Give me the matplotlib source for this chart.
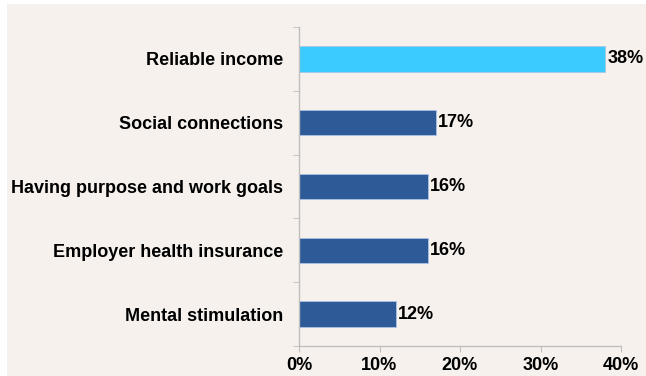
import matplotlib.pyplot as plt
from matplotlib.patches import Rectangle
from matplotlib.ticker import FuncFormatter

plt.rcParams['font.family'] = ['Liberation Sans', 'DejaVu Sans']
plt.rcParams['font.weight'] = 'bold'

categories = ['Reliable income', 'Social connections', 'Having purpose and work goals',
              'Employer health insurance', 'Mental stimulation']
values = [38, 17, 16, 16, 12]
bar_colors = ['#3CCBFF', '#2E5B98', '#2E5B98', '#2E5B98', '#2E5B98']
xticks = [0, 10, 20, 30, 40]

W, H = 646, 376
fig = plt.figure(figsize=(W / 100, H / 100), dpi=100)
fig.patch.set_facecolor('white')
# beige panel behind the chart
fig.patches.append(Rectangle((7 / W, 0), 1 - 7 / W, 1 - 4 / H, transform=fig.transFigure,
                             facecolor='#F6F1ED', edgecolor='none', zorder=-1))

ax = fig.add_axes([299 / W, 30 / H, (621 - 299) / W, (346 - 27) / H])
ax.set_facecolor('none')

ypos = list(range(len(categories)))[::-1]
bars = ax.barh(ypos, values, height=0.4, color=bar_colors, edgecolor='#A9C4E6', linewidth=0.6)
for y, v in zip(ypos, values):
    ax.text(v + 0.3, y, f'{v}%', va='center', ha='left', fontsize=13, fontweight='bold')

ax.set_xlim(0, 40)
ax.set_ylim(-0.5, len(categories) - 0.5)
ax.set_xticks(xticks)
ax.xaxis.set_major_formatter(FuncFormatter(lambda x, p: f'{x:.0f}%'))
ax.set_yticks(ypos)
ax.set_yticklabels(categories)
ax.set_yticks([i + 0.5 for i in range(-1, len(categories))], minor=True)

for s in ['top', 'right']:
    ax.spines[s].set_visible(False)
for s in ['left', 'bottom']:
    ax.spines[s].set_color('#BFBFBF')
    ax.spines[s].set_linewidth(1)

ax.tick_params(axis='y', which='major', length=0, pad=11.5, labelsize=13)
ax.tick_params(axis='y', which='minor', length=4, color='#BFBFBF')
ax.tick_params(axis='x', length=4, color='#BFBFBF', labelsize=13, pad=4)

fig.savefig('out.png', dpi=100, facecolor=fig.get_facecolor())
